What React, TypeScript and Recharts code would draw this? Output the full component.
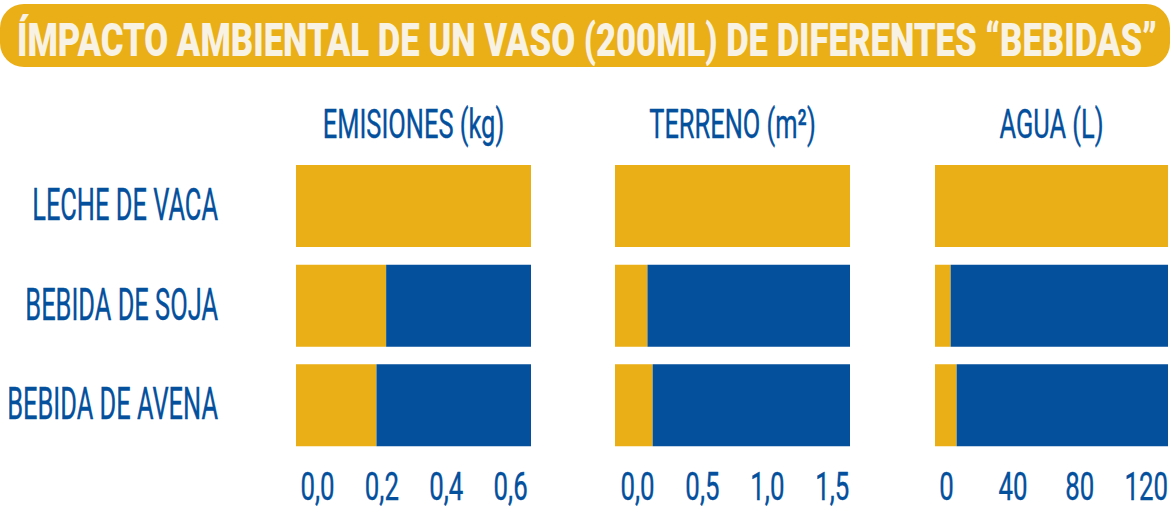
import React from "react";
import { BarChart, Bar, XAxis, YAxis } from "recharts";

// ---------- data ----------
const categories = ["LECHE DE VACA", "BEBIDA DE SOJA", "BEBIDA DE AVENA"];
const emissions = [0.73, 0.28, 0.25]; // kg CO2eq
const land = [1.81, 0.25, 0.29]; // m²
const water = [140, 9.4, 13]; // L
const emissionTicks = [0, 0.2, 0.4, 0.6];
const landTicks = [0, 0.5, 1.0, 1.5];
const waterTicks = [0, 40, 80, 120];
const panelTitles = ["EMISIONES (kg)", "TERRENO (m²)", "AGUA (L)"];
const title = "ÍMPACTO AMBIENTAL DE UN VASO (200ML) DE DIFERENTES “BEBIDAS”";

// ---------- style ----------
const YELLOW = "#EAAE16";
const BLUE = "#04509D";
const CREAM = "#F8F2E4";
const FONT = "Roboto, 'Noto Sans', sans-serif";
const CHART_H = 517;
const MARGIN_TOP = 156;
const XAXIS_H = 62;
const BAR_SIZE = 82;
const TEXT_STROKE = 0.4;

function buildRows(values: number[]) {
  const ref = values[0];
  return categories.map((c, i) => ({
    name: c,
    value: values[i],
    rest: Math.max(0, ref - values[i]),
  }));
}

const fmtDec = (v: number) => v.toFixed(1).replace(".", ",");
const fmtInt = (v: number) => String(Math.round(v));

function makeXTick(fmt: (v: number) => string, dx: number) {
  return (props: any) => {
    const { x, payload } = props;
    return (
      <g transform={`translate(${x + dx},500) scale(0.68,1)`}>
        <text
          x={0}
          y={0}
          textAnchor="middle"
          fill={BLUE}
          stroke={BLUE}
          strokeWidth={TEXT_STROKE}
          fontFamily={FONT}
          fontWeight={400}
          fontSize={38}
        >
          {fmt(payload.value)}
        </text>
      </g>
    );
  };
}

const YTick = (props: any) => {
  const { y, payload } = props;
  return (
    <g transform={`translate(218,${y + 14}) scale(0.565,1)`}>
      <text
        x={0}
        y={0}
        textAnchor="end"
        fill={BLUE}
        stroke={BLUE}
        strokeWidth={TEXT_STROKE}
        fontFamily={FONT}
        fontWeight={400}
        fontSize={45}
      >
        {payload.value}
      </text>
    </g>
  );
};

type PanelProps = {
  values: number[];
  ticks: number[];
  fmt: (v: number) => string;
  left: number;
  width: number;
  marginLeft: number;
  marginRight: number;
  yAxisWidth: number;
  showLabels: boolean;
  tickDx: number;
};

function Panel(p: PanelProps) {
  const rows = buildRows(p.values);
  return (
    <div style={{ position: "absolute", left: p.left, top: 0 }}>
      <BarChart
        width={p.width}
        height={CHART_H}
        data={rows}
        layout="vertical"
        margin={{ top: MARGIN_TOP, right: p.marginRight, bottom: 0, left: p.marginLeft }}
      >
        <XAxis
          type="number"
          domain={[0, p.values[0]]}
          allowDataOverflow
          ticks={p.ticks}
          interval={0}
          height={XAXIS_H}
          axisLine={false}
          tickLine={false}
          tick={makeXTick(p.fmt, p.tickDx)}
        />
        {p.showLabels ? (
          <YAxis
            type="category"
            dataKey="name"
            width={p.yAxisWidth}
            axisLine={false}
            tickLine={false}
            tick={YTick}
            interval={0}
          />
        ) : (
          <YAxis type="category" dataKey="name" hide />
        )}
        <Bar dataKey="value" stackId="s" fill={YELLOW} barSize={BAR_SIZE} isAnimationActive={false} />
        <Bar dataKey="rest" stackId="s" fill={BLUE} barSize={BAR_SIZE} isAnimationActive={false} />
      </BarChart>
    </div>
  );
}

const panelCenters = [413.5, 732.5, 1051.5];

export default function App() {
  return (
    <div
      style={{
        position: "absolute",
        left: 0,
        top: 0,
        width: 1172,
        height: 517,
        background: "#ffffff",
        overflow: "hidden",
      }}
    >
      <Panel
        values={emissions}
        ticks={emissionTicks}
        fmt={fmtDec}
        left={0}
        width={545}
        marginLeft={0}
        marginRight={14}
        yAxisWidth={296}
        showLabels
        tickDx={21.5}
      />
      <Panel
        values={land}
        ticks={landTicks}
        fmt={fmtDec}
        left={560}
        width={300}
        marginLeft={55}
        marginRight={10}
        yAxisWidth={0}
        showLabels={false}
        tickDx={22.5}
      />
      <Panel
        values={water}
        ticks={waterTicks}
        fmt={fmtInt}
        left={880}
        width={292}
        marginLeft={55}
        marginRight={4}
        yAxisWidth={0}
        showLabels={false}
        tickDx={11.5}
      />
      <svg
        width={1172}
        height={150}
        style={{ position: "absolute", left: 0, top: 0, pointerEvents: "none" }}
      >
        <rect x={0} y={4} width={1170} height={63} rx={24} ry={24} fill={YELLOW} />
        <g transform="translate(17,56) scale(1,1.45)">
          <text
            x={0}
            y={0}
            textLength={1140}
            lengthAdjust="spacingAndGlyphs"
            fill={CREAM}
            fontFamily={FONT}
            fontWeight={900}
            fontSize={32}
          >
            {title}
          </text>
        </g>
        {panelTitles.map((t, i) => (
          <g key={t} transform={`translate(${panelCenters[i]},138) scale(0.62,1)`}>
            <text
              x={0}
              y={0}
              textAnchor="middle"
              fill={BLUE}
              stroke={BLUE}
              strokeWidth={TEXT_STROKE}
              fontFamily={FONT}
              fontWeight={400}
              fontSize={41}
            >
              {t}
            </text>
          </g>
        ))}
      </svg>
    </div>
  );
}
